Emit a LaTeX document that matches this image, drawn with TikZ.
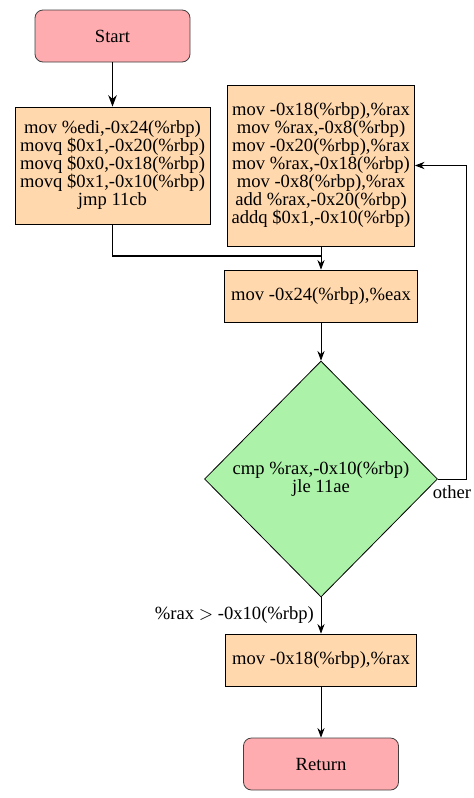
\documentclass[tikz,border=0pt]{standalone}
\usepackage{fontspec}
\setmainfont{Liberation Serif}
\usetikzlibrary{arrows.meta,shapes.geometric}
\definecolor{termfill}{RGB}{255,172,176}
\definecolor{blkfill}{RGB}{255,216,174}
\definecolor{condfill}{RGB}{172,242,168}
\begin{document}
\begin{tikzpicture}[x=0.5pt,y=-0.5pt,>=Stealth,font=\fontsize{9.3}{9}\selectfont,
 term/.style={draw=black!75,rounded corners=4pt,fill=termfill,minimum width=77.5pt,minimum height=26pt},
 blk/.style={draw,fill=blkfill,align=center,inner sep=0pt},
 cond/.style={draw,diamond,aspect=1,fill=condfill,align=center,inner sep=0pt,minimum width=116.5pt,minimum height=118pt}]
\useasboundingbox (0,0) rectangle (474,798);
\node[term] (start) at (112.5,36) {Start};
\node[blk,minimum width=97.5pt,minimum height=58.5pt] (init) at (112.5,165.5) {mov \%edi,-0x24(\%rbp)\\movq \$0x1,-0x20(\%rbp)\\movq \$0x0,-0x18(\%rbp)\\movq \$0x1,-0x10(\%rbp)\\jmp 11cb};
\node[blk,minimum width=93.5pt,minimum height=80.5pt] (body) at (321,165.5) {mov -0x18(\%rbp),\%rax\\mov \%rax,-0x8(\%rbp)\\mov -0x20(\%rbp),\%rax\\mov \%rax,-0x18(\%rbp)\\mov -0x8(\%rbp),\%rax\\add \%rax,-0x20(\%rbp)\\addq \$0x1,-0x10(\%rbp)};
\node[blk,minimum width=96.5pt,minimum height=26pt] (load) at (321,296) {mov -0x24(\%rbp),\%eax};
\node[cond] (cmp) at (321,479) {cmp \%rax,-0x10(\%rbp)\\jle 11ae};
\node[blk,minimum width=95.5pt,minimum height=26pt] (res) at (321,660) {mov -0x18(\%rbp),\%rax};
\node[term] (ret) at (321,764) {Return};
\coordinate (join) at (321,256);
\draw[semithick,->] (start)--(init);
\draw[semithick] (init.south)|-(join);
\foreach \a/\b in {body/load,load/cmp,res/ret}{\draw[->] (\a)--(\b);}
\draw[->] (cmp.south)--node[left] (gt) {\%rax $>$ -0x10(\%rbp)} (res.north);
\draw[->] (cmp.east)--node[below] (other) {other} ++(28,0)|-(body.east);
\end{tikzpicture}
\end{document}
